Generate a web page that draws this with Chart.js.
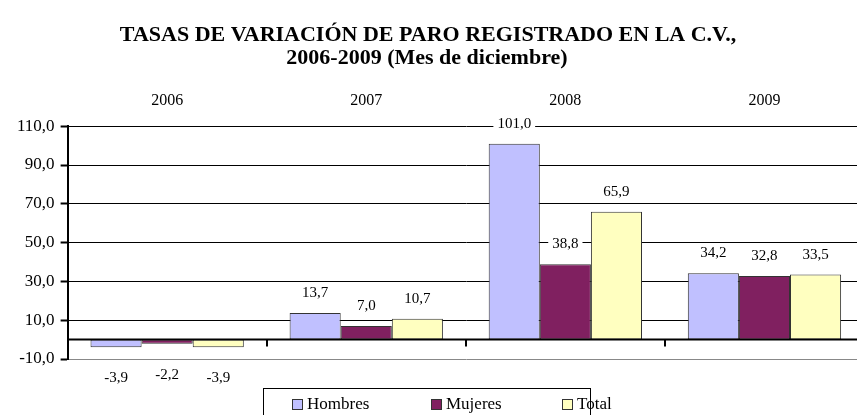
<!DOCTYPE html>
<html>
<head>
<meta charset="utf-8">
<script src="https://cdn.jsdelivr.net/npm/chart.js@4.4.0/dist/chart.umd.min.js"></script>
<style>
    html, body { margin: 0; padding: 0; background: #fff; overflow: hidden; }
    #wrap { position: relative; width: 864px; height: 415px; }
</style>
</head>
<body>
<div id="wrap"><canvas id="paroChart"></canvas></div>
<script>
// Data
const years = ['2006', '2007', '2008', '2009'];
const hombres = [-3.9, 13.7, 101.0, 34.2];
const mujeres = [-2.2, 7.0, 38.8, 32.8];
const total = [-3.9, 10.7, 65.9, 33.5];
const seriesNames = ['Hombres', 'Mujeres', 'Total'];
const seriesColors = ['#C0C0FF', '#802060', '#FFFFC0'];
const titleLines = ['TASAS DE VARIACIÓN DE PARO REGISTRADO EN LA C.V.,', '2006-2009 (Mes de diciembre)'];

const FONT = '"Liberation Serif", "Times New Roman", serif';

function fmt(v) {
    return v.toFixed(1).replace('.', ',');
}

/**
 * Title, value labels, zero line, category ticks and boxed legend
 */
const excelLook = {
    id: 'excelLook',
    afterDatasetsDraw(chart) {
        const ctx = chart.ctx;
        const area = chart.chartArea;
        const x = chart.scales.x;
        const y = chart.scales.y;
        const y0 = y.getPixelForValue(0);

        ctx.save();
        // zero line
        ctx.strokeStyle = '#000';
        ctx.lineWidth = 2;
        ctx.beginPath();
        ctx.moveTo(area.left, y0);
        ctx.lineTo(area.right, y0);
        ctx.stroke();
        // category boundary ticks
        for (let i = 1; i < years.length; i++) {
            const bx = Math.round((x.getPixelForTick(i - 1) + x.getPixelForTick(i)) / 2);
            ctx.beginPath();
            ctx.moveTo(bx, y0);
            ctx.lineTo(bx, y0 + 7);
            ctx.stroke();
        }

        // value labels
        ctx.font = '15px ' + FONT;
        ctx.textAlign = 'center';
        ctx.textBaseline = 'middle';
        chart.data.datasets.forEach((ds, di) => {
            chart.getDatasetMeta(di).data.forEach((bar, i) => {
                const v = ds.data[i];
                const txt = fmt(v);
                const cy = v >= 0 ? bar.y - 20 : bar.y + 31;
                const w = ctx.measureText(txt).width;
                ctx.fillStyle = '#fff';
                ctx.fillRect(bar.x - w / 2 - 4, cy - 8, w + 8, 16);
                ctx.fillStyle = '#000';
                ctx.fillText(txt, bar.x, cy);
            });
        });
        ctx.restore();
    },
    afterDraw(chart) {
        const ctx = chart.ctx;
        ctx.save();
        // title
        ctx.fillStyle = '#000';
        ctx.font = 'bold 22px ' + FONT;
        ctx.textAlign = 'center';
        ctx.textBaseline = 'middle';
        ctx.fillText(titleLines[0], 428, 35);
        ctx.fillText(titleLines[1], 427, 58);

        // legend
        ctx.strokeStyle = '#000';
        ctx.lineWidth = 1;
        ctx.strokeRect(263.5, 388.5, 327, 30);
        const itemX = [292, 431, 562];
        ctx.font = '17px ' + FONT;
        ctx.textAlign = 'left';
        seriesNames.forEach((name, i) => {
            ctx.fillStyle = seriesColors[i];
            ctx.fillRect(itemX[i], 399, 11, 11);
            ctx.strokeStyle = '#333';
            ctx.strokeRect(itemX[i] + 0.5, 399.5, 10, 10);
            ctx.fillStyle = '#000';
            ctx.fillText(name, itemX[i] + 15, 405);
        });
        ctx.restore();
    }
};

const seriesData = [hombres, mujeres, total];

new Chart(document.getElementById('paroChart'), {
    type: 'bar',
    data: {
        labels: years,
        datasets: seriesNames.map((name, i) => ({
            label: name,
            data: seriesData[i],
            backgroundColor: seriesColors[i],
            borderColor: '#333',
            borderWidth: 1,
            borderSkipped: false,
            categoryPercentage: 0.77,
            barPercentage: 1.0
        }))
    },
    options: {
        responsive: true,
        maintainAspectRatio: false,
        animation: false,
        layout: {
            padding: { left: 11, right: 0, top: 75, bottom: 56 }
        },
        plugins: {
            legend: { display: false },
            tooltip: { enabled: false },
            title: { display: false }
        },
        scales: {
            x: {
                position: 'top',
                grid: { display: false, drawTicks: false },
                border: { display: false },
                ticks: {
                    color: '#000',
                    font: { family: FONT, size: 16 },
                    padding: 16
                }
            },
            y: {
                min: -10,
                max: 110,
                ticks: {
                    stepSize: 20,
                    color: '#000',
                    font: { family: FONT, size: 17 },
                    padding: 6,
                    callback: (v) => fmt(v)
                },
                grid: {
                    color: (c) => (c.tick && c.tick.value === -10 ? '#888' : '#000'),
                    lineWidth: 1,
                    tickLength: 7,
                    tickColor: '#000',
                    tickWidth: 2
                },
                border: { color: '#000', width: 2 }
            }
        }
    },
    plugins: [excelLook]
});
</script>
</body>
</html>
